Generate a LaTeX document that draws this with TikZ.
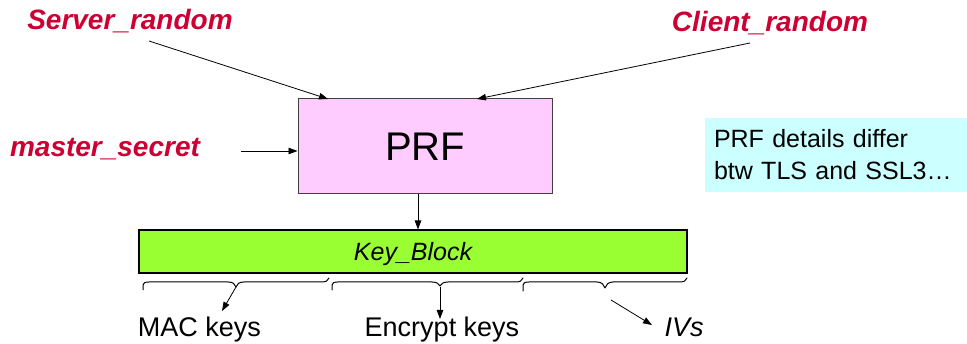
\documentclass[tikz,border=0pt]{standalone}
\usepackage{fontspec}
\setmainfont{Liberation Sans}
\usetikzlibrary{arrows.meta}
\definecolor{redlab}{HTML}{CC0033}
\definecolor{pinkfill}{HTML}{FFCCFF}
\definecolor{cyanfill}{HTML}{CCFFFF}
\definecolor{greenfill}{HTML}{99FF33}
\definecolor{boxline}{HTML}{404040}
\begin{document}
\begin{tikzpicture}[x=1pt,y=-1pt,
  redlabel/.style={text=redlab, font=\fontsize{28}{34}\selectfont\bfseries\itshape, inner sep=0pt, anchor=base},
  botlabel/.style={font=\fontsize{27}{32}\selectfont, inner sep=0pt, anchor=base},
  conn/.style={line width=0.8pt, -{Triangle[length=9pt,width=6.5pt]}},
  bracepath/.style={line width=1pt, line join=round, line cap=round},
]
\useasboundingbox (0,0) rectangle (967,344);
% boxes
\node[draw=boxline, line width=1pt, fill=pinkfill, minimum width=254pt, minimum height=95pt,
      font=\fontsize{40}{48}\selectfont, inner sep=0pt] (prf) at (425,146.5) {PRF};
\node[draw=black, line width=1.5pt, fill=greenfill, minimum width=548pt, minimum height=43pt,
      font=\fontsize{25}{30}\selectfont\itshape, text depth=0pt, inner sep=0pt] (kb) at (413,251.5) {Key\_Block};
\node[fill=cyanfill, minimum width=262pt, minimum height=74pt, text width=244pt, align=left,
      font=\fontsize{25}{32}\selectfont, inner sep=0pt] (note) at (836,155) {PRF details differ\\btw TLS and SSL3…};
% red input labels
\node[redlabel] (sr) at (130,30) {Server\_random};
\node[redlabel] (cr) at (770,32) {Client\_random};
\node[redlabel] (ms) at (105,157) {master\_secret};
% output labels
\node[botlabel] (mac) at (199.5,337) {MAC keys};
\node[botlabel] (enc) at (442,337) {Encrypt keys};
\node[botlabel, font=\fontsize{27}{32}\selectfont\itshape] (ivs) at (684,337) {IVs};
% connector end points
\coordinate (srs) at (149,41);
\coordinate (prfa) at (328,99);
\coordinate (crs) at (750,43);
\coordinate (prfb) at (477,99);
\coordinate (mss) at (241,151);
\coordinate (prfc) at (297.5,151);
\coordinate (prfd) at (418,194);
\coordinate (kbtop) at (418,229.5);
\coordinate (b1) at (236,287);
\coordinate (macend) at (222,311);
\coordinate (b2) at (440,287);
\coordinate (encend) at (440,319);
\coordinate (ivsstart) at (611,300);
\coordinate (ivsend) at (652,325);
% connectors
\draw[conn] (srs) -- (prfa);
\draw[conn] (crs) -- (prfb);
\draw[conn] (mss) -- (prfc);
\draw[conn] (prfd) -- (kbtop);
\draw[conn] (b1) -- (macend);
\draw[conn] (b2) -- (encend);
\draw[conn] (ivsstart) -- (ivsend);
% braces
\draw[bracepath] (143,290) -- (143,285) .. controls (143,283) and (145,282) .. (149,282)
  -- (228,282) .. controls (233,282) and (235,284) .. (236,287)
  .. controls (237,284) and (239,282) .. (244,282) -- (321,282)
  .. controls (326,282) and (328,281) .. (329,278);
\draw[bracepath] (332,290) -- (332,285) .. controls (332,283) and (334,282) .. (338,282)
  -- (432,282) .. controls (437,282) and (439,284) .. (440,286)
  .. controls (441,284) and (443,282) .. (448,282) -- (515,282)
  .. controls (520,282) and (522,281) .. (523,278);
\draw[bracepath] (523,291) -- (523,285) .. controls (523,283) and (525,282) .. (529,282)
  -- (597,282) .. controls (602,282) and (604,285) .. (605,288)
  .. controls (606,285) and (608,282) .. (613,282) -- (679,282)
  .. controls (684,282) and (686,281) .. (687,278);
\end{tikzpicture}
\end{document}
